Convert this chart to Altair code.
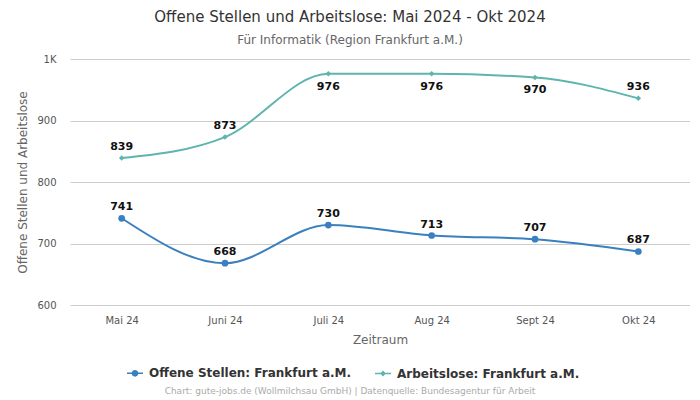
import altair as alt
import pandas as pd

months = ["Mai 24", "Juni 24", "Juli 24", "Aug 24", "Sept 24", "Okt 24"]
offene = [741, 668, 730, 713, 707, 687]
arbeitslose = [839, 873, 976, 976, 970, 936]
s1 = "Offene Stellen: Frankfurt a.M."
s2 = "Arbeitslose: Frankfurt a.M."

rows = []
for m, v in zip(months, offene):
    rows.append({"Monat": m, "Wert": v, "Serie": s1})
for m, v in zip(months, arbeitslose):
    rows.append({"Monat": m, "Wert": v, "Serie": s2})
df = pd.DataFrame(rows)

blue = "#3a80c0"
teal = "#5db5ae"
cscale = alt.Scale(domain=[s1, s2], range=[blue, teal])
color = alt.Color("Serie:N", scale=cscale, legend=None)

x = alt.X("Monat:N", sort=months, scale=alt.Scale(paddingOuter=0.5),
          axis=alt.Axis(title="Zeitraum", labelAngle=0, labelColor="#555", labelFontSize=10,
                        titleColor="#666", titleFontSize=12, titleFontWeight="normal",
                        domain=False, ticks=False, labelPadding=10, titlePadding=9, grid=False))
y = alt.Y("Wert:Q", scale=alt.Scale(domain=[600, 1000], nice=False, zero=False),
          axis=alt.Axis(title="Offene Stellen und Arbeitslose", values=[600, 700, 800, 900, 1000],
                        labelExpr="datum.value >= 1000 ? '1K' : datum.label",
                        labelColor="#555", labelFontSize=10, titleColor="#666", titleFontSize=12,
                        titleFontWeight="normal", domain=False, ticks=False, labelPadding=14,
                        titlePadding=7, gridColor="#cccccc"))

base = alt.Chart(df)
lines = base.mark_line(interpolate="monotone", strokeWidth=2).encode(x=x, y=y, color=color)

points = base.mark_point(filled=True, opacity=1).encode(
    x=x, y=y, color=color,
    shape=alt.Shape("Serie:N", scale=alt.Scale(domain=[s1, s2], range=["circle", "diamond"]), legend=None),
    size=alt.Size("Serie:N", scale=alt.Scale(domain=[s1, s2], range=[45, 30]), legend=None),
)

circle_path = ("M-1,-0.09L1,-0.09L1,0.09L-1,0.09Z "
               "M0.42,0A0.42,0.42 0 1 1 -0.42,0A0.42,0.42 0 1 1 0.42,0Z")
diamond_path = ("M-1,-0.09L1,-0.09L1,0.09L-1,0.09Z "
                "M0,-0.36L0.36,0L0,0.36L-0.36,0Z")

leg = alt.Legend(title=None, orient="none", legendX=56, legendY=305,
                 direction="horizontal", labelFontSize=12, labelFontWeight="bold",
                 labelColor="#333", columnPadding=20, symbolOpacity=1,
                 symbolSize=256, labelLimit=400, labelOffset=5)

legend_layer = base.mark_point(filled=True, opacity=1, size=256).encode(
    x=x, y=y,
    color=alt.Color("Serie:N", scale=cscale, legend=leg),
    shape=alt.Shape("Serie:N", scale=alt.Scale(domain=[s1, s2], range=[circle_path, diamond_path]),
                    legend=leg),
).transform_filter("false")

below = f"datum.Serie == '{s2}' && datum.Wert > 950"
labels_above = base.mark_text(fontSize=11, fontWeight="bold", color="#111", dy=-11).encode(
    x=x, y=y, text="Wert:Q").transform_filter(f"!({below})")
labels_below = base.mark_text(fontSize=11, fontWeight="bold", color="#111", dy=13).encode(
    x=x, y=y, text="Wert:Q").transform_filter(below)

footer = alt.Chart(pd.DataFrame({"t": ["Chart: gute-jobs.de (Wollmilchsau GmbH) | Datenquelle: Bundesagentur für Arbeit"]})).mark_text(
    fontSize=9, color="#aaa").encode(x=alt.value(280), y=alt.value(332), text="t:N")

chart = alt.layer(lines, points, legend_layer, labels_above, labels_below, footer).resolve_scale(
    shape="independent").resolve_legend(color="independent", shape="independent").properties(
    width=620, height=246,
    title=alt.Title("Offene Stellen und Arbeitslose: Mai 2024 - Okt 2024",
                    subtitle="Für Informatik (Region Frankfurt a.M.)",
                    fontSize=15, fontWeight="normal", color="#333", subtitleFontSize=12,
                    subtitleColor="#666", subtitlePadding=10, offset=8, dx=-30, anchor="middle"),
    autosize=alt.AutoSizeParams(type="none"),
    padding={"left": 62, "top": 51, "right": 0, "bottom": 94},
).configure(font="DejaVu Sans").configure_view(stroke=None)

chart.save("out.html", embed_options={"renderer": "svg", "actions": False})
